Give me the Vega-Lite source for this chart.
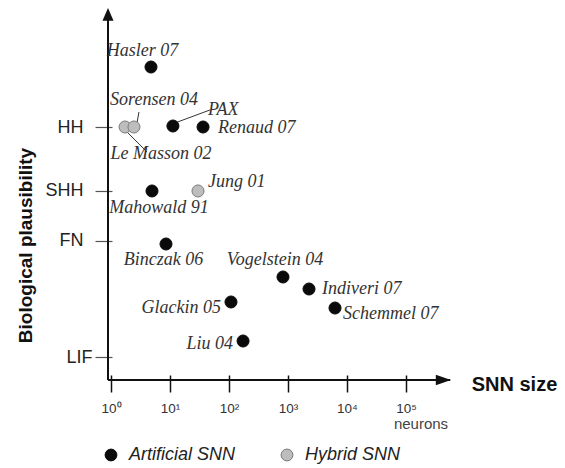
{
  "$schema": "https://vega.github.io/schema/vega-lite/v6.json",
  "width": 343,
  "height": 372,
  "autosize": {"type": "none"},
  "padding": {"left": 108, "top": 8, "right": 114, "bottom": 88},
  "background": "white",
  "config": {"view": {"stroke": null}},
  "data": {"values": [
    {"name": "Hasler 07", "type": "Artificial SNN", "neurons": 4.76, "plausibility": 84.14},
    {"name": "PAX", "type": "Artificial SNN", "neurons": 11.2, "plausibility": 68.28},
    {"name": "Renaud 07", "type": "Artificial SNN", "neurons": 36.3, "plausibility": 68.01},
    {"name": "Mahowald 91", "type": "Artificial SNN", "neurons": 4.95, "plausibility": 50.81},
    {"name": "Binczak 06", "type": "Artificial SNN", "neurons": 8.55, "plausibility": 36.56},
    {"name": "Vogelstein 04", "type": "Artificial SNN", "neurons": 822, "plausibility": 27.69},
    {"name": "Indiveri 07", "type": "Artificial SNN", "neurons": 2270, "plausibility": 24.46},
    {"name": "Glackin 05", "type": "Artificial SNN", "neurons": 108, "plausibility": 20.97},
    {"name": "Schemmel 07", "type": "Artificial SNN", "neurons": 6260, "plausibility": 19.35},
    {"name": "Liu 04", "type": "Artificial SNN", "neurons": 173, "plausibility": 10.48},
    {"name": "Le Masson 02", "type": "Hybrid SNN", "neurons": 1.73, "plausibility": 68.01},
    {"name": "Sorensen 04", "type": "Hybrid SNN", "neurons": 2.45, "plausibility": 68.01},
    {"name": "Jung 01", "type": "Hybrid SNN", "neurons": 29.8, "plausibility": 50.81}
  ]},
  "encoding": {
    "x": {
      "field": "neurons", "type": "quantitative",
      "scale": {"type": "log", "domain": [0.889, 579000], "nice": false},
      "axis": {
        "values": [1, 10, 100, 1000, 10000, 100000],
        "labelExpr": "'10' + ['⁰','¹','²','³','⁴','⁵'][round(log(datum.value)/LN10)]",
        "labelFont": "Liberation Sans", "labelFontSize": 13.5, "labelColor": "#333",
        "labelPadding": 9, "labelFlush": false, "labelOverlap": false,
        "offset": -5, "domain": false,
        "tickSize": 17, "tickWidth": 1.5, "tickColor": "#111", "grid": false,
        "title": "SNN size", "titleFont": "Liberation Sans", "titleFontSize": 20,
        "titleFontWeight": "bold", "titleColor": "#111",
        "titleX": 406, "titleY": 9, "titleAlign": "center", "titleBaseline": "middle", "titleAngle": 0
      }
    },
    "y": {
      "field": "plausibility", "type": "quantitative",
      "scale": {"domain": [0, 100], "nice": false, "zero": false},
      "axis": {
        "values": [6.18, 37.37, 50.81, 68.01],
        "labelExpr": "datum.value < 20 ? 'LIF' : datum.value < 45 ? 'FN' : datum.value < 60 ? 'SHH' : 'HH'",
        "labelFont": "Liberation Sans", "labelFontSize": 18, "labelColor": "#222",
        "labelPadding": {"condition": {"test": "datum.value < 20", "value": 3}, "value": 12},
        "labelBaseline": "middle",
        "offset": -4, "domain": false,
        "tickSize": 17, "tickWidth": 1.2, "tickColor": "#555", "grid": false,
        "title": "Biological plausibility", "titleFont": "Liberation Sans", "titleFontSize": 19,
        "titleFontWeight": "bold", "titleColor": "#111",
        "titleAngle": -90, "titleX": -87, "titleY": 237, "titleAlign": "center", "titleBaseline": "middle"
      }
    }
  },
  "layer": [
    {
      "transform": [{"filter": {"field": "name", "equal": "Hasler 07"}}],
      "mark": {"type": "rule", "color": "#111", "strokeWidth": 2},
      "encoding": {"x": {"datum": 0.889}, "x2": {"datum": 560000}, "y": {"datum": 0}}
    },
    {
      "transform": [{"filter": {"field": "name", "equal": "Hasler 07"}}],
      "mark": {"type": "rule", "color": "#111", "strokeWidth": 2},
      "encoding": {"x": {"datum": 0.889}, "y": {"datum": 0}, "y2": {"datum": 98}}
    },
    {
      "transform": [{"filter": {"field": "name", "equal": "Sorensen 04"}}],
      "mark": {"type": "rule", "color": "#333", "strokeWidth": 1, "xOffset": 3, "yOffset": -4, "x2Offset": 5, "y2Offset": -15},
      "encoding": {"x2": {"field": "neurons"}, "y2": {"field": "plausibility"}}
    },
    {
      "transform": [{"filter": {"field": "name", "equal": "Le Masson 02"}}],
      "mark": {"type": "rule", "color": "#333", "strokeWidth": 1, "xOffset": 2, "yOffset": 5, "x2Offset": 22, "y2Offset": 25},
      "encoding": {"x2": {"field": "neurons"}, "y2": {"field": "plausibility"}}
    },
    {
      "transform": [{"filter": {"field": "name", "equal": "PAX"}}],
      "mark": {"type": "rule", "color": "#333", "strokeWidth": 1, "xOffset": 2, "yOffset": -3, "x2Offset": 37, "y2Offset": -16},
      "encoding": {"x2": {"field": "neurons"}, "y2": {"field": "plausibility"}}
    },
    {
      "mark": {"type": "point", "filled": true, "shape": "circle", "size": 145, "opacity": 1, "strokeWidth": 1},
      "encoding": {
        "fill": {
          "field": "type", "type": "nominal",
          "scale": {"domain": ["Artificial SNN", "Hybrid SNN"], "range": ["#0a0a0a", "#bdbdbd"]},
          "legend": {
            "orient": "none", "legendX": -6, "legendY": 438, "direction": "horizontal",
            "title": null, "padding": 0, "columnPadding": 42, "labelOffset": 9,
            "symbolSize": 140, "symbolStrokeWidth": 1, "symbolType": "circle",
            "labelFont": "Liberation Sans", "labelFontStyle": "italic", "labelFontSize": 18, "labelColor": "#222"
          }
        },
        "stroke": {
          "field": "type", "type": "nominal",
          "scale": {"domain": ["Artificial SNN", "Hybrid SNN"], "range": ["#0a0a0a", "#7a7a7a"]}
        }
      }
    },
    {
      "transform": [{"filter": {"field": "name", "equal": "Hasler 07"}}],
      "mark": {"type": "point", "shape": "M0,0L0.69,1.6L-0.69,1.6Z", "size": 256, "filled": true, "color": "#111", "opacity": 1},
      "encoding": {"x": {"datum": 0.889}, "y": {"datum": 100}}
    },
    {
      "transform": [{"filter": {"field": "name", "equal": "Hasler 07"}}],
      "mark": {"type": "point", "shape": "M0,0L-1.9,-0.65L-1.9,0.65Z", "size": 256, "filled": true, "color": "#111", "opacity": 1},
      "encoding": {"x": {"datum": 579000}, "y": {"datum": 0}}
    },
    {
      "transform": [{"filter": {"field": "name", "equal": "Hasler 07"}}],
      "mark": {"type": "text", "text": "neurons", "font": "Liberation Sans", "fontSize": 15, "color": "#444", "align": "center", "baseline": "middle", "dx": 15, "dy": 44},
      "encoding": {"x": {"datum": 100000}, "y": {"datum": 0}}
    },
    {
      "encoding": {"text": {"field": "name"}},
      "layer": [
        {"transform": [{"filter": {"field": "name", "equal": "Hasler 07"}}],
         "mark": {"type": "text", "font": "Liberation Serif", "fontStyle": "italic", "fontSize": 18, "color": "#333", "baseline": "alphabetic", "align": "center", "dx": -8.5, "dy": -11}},
        {"transform": [{"filter": {"field": "name", "equal": "Sorensen 04"}}],
         "mark": {"type": "text", "font": "Liberation Serif", "fontStyle": "italic", "fontSize": 18, "color": "#333", "baseline": "alphabetic", "align": "center", "dx": 20, "dy": -22}},
        {"transform": [{"filter": {"field": "name", "equal": "Le Masson 02"}}],
         "mark": {"type": "text", "font": "Liberation Serif", "fontStyle": "italic", "fontSize": 18, "color": "#333", "baseline": "alphabetic", "align": "center", "dx": 36, "dy": 32}},
        {"transform": [{"filter": {"field": "name", "equal": "PAX"}}],
         "mark": {"type": "text", "font": "Liberation Serif", "fontStyle": "italic", "fontSize": 18, "color": "#333", "baseline": "alphabetic", "align": "left", "dx": 35, "dy": -11}},
        {"transform": [{"filter": {"field": "name", "equal": "Renaud 07"}}],
         "mark": {"type": "text", "font": "Liberation Serif", "fontStyle": "italic", "fontSize": 18, "color": "#333", "baseline": "alphabetic", "align": "left", "dx": 15, "dy": 6}},
        {"transform": [{"filter": {"field": "name", "equal": "Mahowald 91"}}],
         "mark": {"type": "text", "font": "Liberation Serif", "fontStyle": "italic", "fontSize": 18, "color": "#333", "baseline": "alphabetic", "align": "center", "dx": 7, "dy": 22}},
        {"transform": [{"filter": {"field": "name", "equal": "Jung 01"}}],
         "mark": {"type": "text", "font": "Liberation Serif", "fontStyle": "italic", "fontSize": 18, "color": "#333", "baseline": "alphabetic", "align": "left", "dx": 10, "dy": -4}},
        {"transform": [{"filter": {"field": "name", "equal": "Binczak 06"}}],
         "mark": {"type": "text", "font": "Liberation Serif", "fontStyle": "italic", "fontSize": 18, "color": "#333", "baseline": "alphabetic", "align": "center", "dx": -2.5, "dy": 21}},
        {"transform": [{"filter": {"field": "name", "equal": "Vogelstein 04"}}],
         "mark": {"type": "text", "font": "Liberation Serif", "fontStyle": "italic", "fontSize": 18, "color": "#333", "baseline": "alphabetic", "align": "center", "dx": -8, "dy": -12}},
        {"transform": [{"filter": {"field": "name", "equal": "Indiveri 07"}}],
         "mark": {"type": "text", "font": "Liberation Serif", "fontStyle": "italic", "fontSize": 18, "color": "#333", "baseline": "alphabetic", "align": "left", "dx": 13, "dy": 5}},
        {"transform": [{"filter": {"field": "name", "equal": "Glackin 05"}}],
         "mark": {"type": "text", "font": "Liberation Serif", "fontStyle": "italic", "fontSize": 18, "color": "#333", "baseline": "alphabetic", "align": "right", "dx": -10, "dy": 11}},
        {"transform": [{"filter": {"field": "name", "equal": "Schemmel 07"}}],
         "mark": {"type": "text", "font": "Liberation Serif", "fontStyle": "italic", "fontSize": 18, "color": "#333", "baseline": "alphabetic", "align": "left", "dx": 8, "dy": 11}},
        {"transform": [{"filter": {"field": "name", "equal": "Liu 04"}}],
         "mark": {"type": "text", "font": "Liberation Serif", "fontStyle": "italic", "fontSize": 18, "color": "#333", "baseline": "alphabetic", "align": "right", "dx": -10, "dy": 8}}
      ]
    }
  ]
}
